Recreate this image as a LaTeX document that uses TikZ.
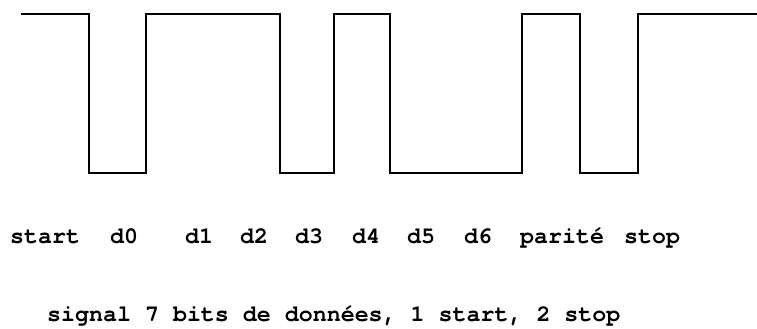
\documentclass[tikz,border=0pt]{standalone}
\usepackage{fontspec}
\setmonofont{TeX Gyre Cursor}
\begin{document}
\begin{tikzpicture}[x=1pt,y=1pt,
  lbl/.style={anchor=base west,inner sep=0pt,font=\ttfamily\bfseries\fontsize{23.3}{26}\selectfont},
  wave/.style={line width=2.2pt,line join=miter,black}]
\useasboundingbox (0,0) rectangle (757,329);
% levels: high y=315, low y=156
\coordinate (w0) at (21,315);
\coordinate (w1) at (89,315);
\coordinate (w2) at (89,156);
\coordinate (w3) at (146,156);
\coordinate (w4) at (146,315);
\coordinate (w5) at (280,315);
\coordinate (w6) at (280,156);
\coordinate (w7) at (334,156);
\coordinate (w8) at (334,315);
\coordinate (w9) at (390,315);
\coordinate (w10) at (390,156);
\coordinate (w11) at (522,156);
\coordinate (w12) at (522,315);
\coordinate (w13) at (580,315);
\coordinate (w14) at (580,156);
\coordinate (w15) at (638,156);
\coordinate (w16) at (638,315);
\coordinate (w17) at (757,315);
\draw[wave] (w0) -- (w1) -- (w2) -- (w3) -- (w4) -- (w5) -- (w6) -- (w7) -- (w8)
  -- (w9) -- (w10) -- (w11) -- (w12) -- (w13) -- (w14) -- (w15) -- (w16) -- (w17);
\node[lbl] (lstart) at (10,85) {start};
\node[lbl] (ld0) at (110,85) {d0};
\node[lbl] (ld1) at (185,85) {d1};
\node[lbl] (ld2) at (240,85) {d2};
\node[lbl] (ld3) at (295,85) {d3};
\node[lbl] (ld4) at (352,85) {d4};
\node[lbl] (ld5) at (407,85) {d5};
\node[lbl] (ld6) at (464,85) {d6};
\node[lbl] (lpar) at (520,85) {parité};
\node[lbl] (lstop) at (624,85) {stop};
\node[lbl] (caption) at (47,7) {signal 7 bits de données, 1 start, 2 stop};
\end{tikzpicture}
\end{document}
